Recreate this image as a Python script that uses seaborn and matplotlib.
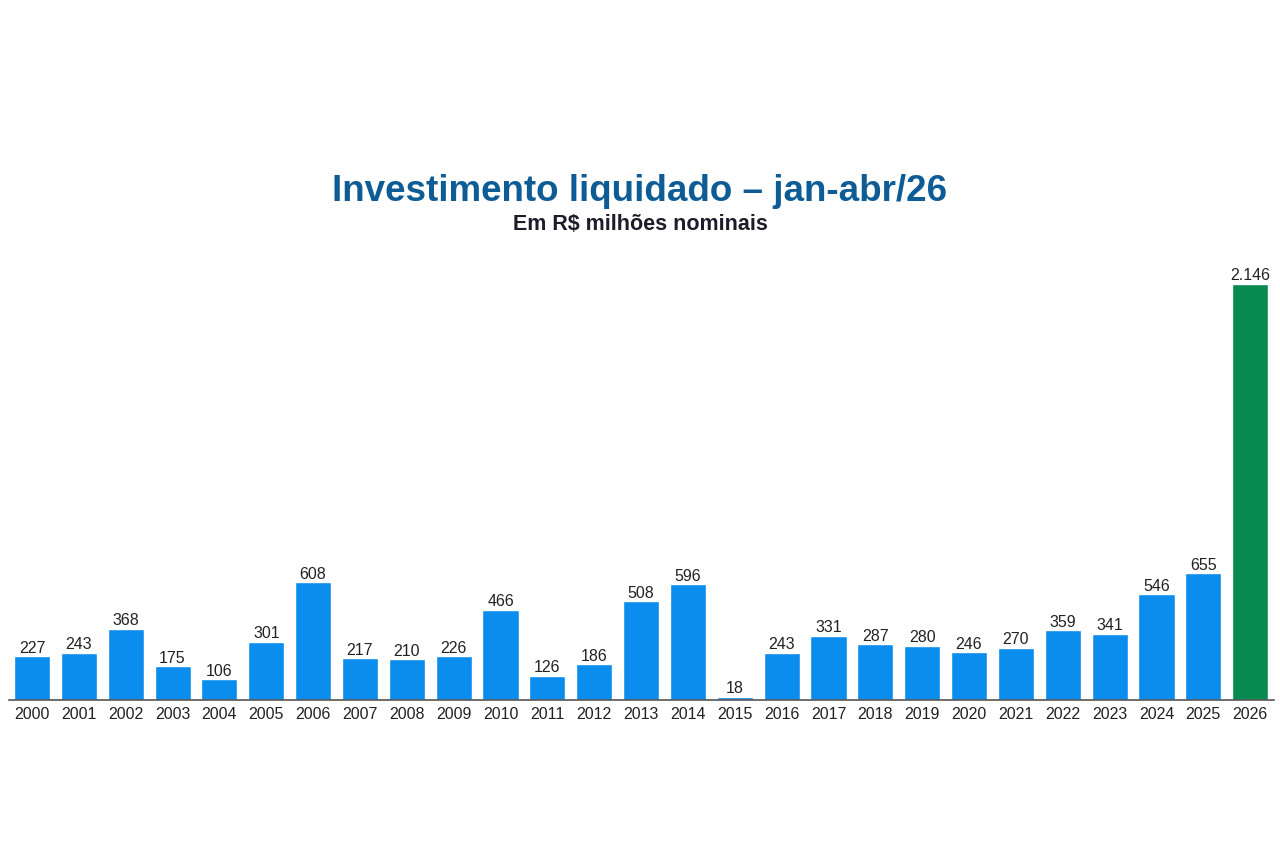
import matplotlib
matplotlib.use("Agg")
import matplotlib.pyplot as plt
import pandas as pd
import seaborn as sns

sns.set_style("white")
plt.rcParams['font.family'] = ['Liberation Sans', 'DejaVu Sans']

# dados (R$ milhoes nominais, jan-abr)
anos = [str(a) for a in range(2000, 2027)]
valores = [227, 243, 368, 175, 106, 301, 608, 217, 210, 226, 466, 126, 186, 508,
           596, 18, 243, 331, 287, 280, 246, 270, 359, 341, 546, 655, 2146]
destaque = ["base"] * 26 + ["atual"]

df = pd.DataFrame({"ano": anos, "valor": valores, "grupo": destaque})

fig = plt.figure(figsize=(12.8, 8.53), dpi=100)
ax = fig.add_axes([0.0067, 0.1782, 0.9883, 0.517])

sns.barplot(data=df, x="ano", y="valor", hue="grupo",
            palette={"base": "#0a8ded", "atual": "#078a4f"},
            width=0.77, dodge=False, legend=False, ax=ax, saturation=1)

# rotulos no formato brasileiro
rotulos = [f"{v:,}".replace(",", ".") for v in valores]
for cont in ax.containers:
    labs = [rotulos[int(round(b.get_x() + b.get_width() / 2))] for b in cont]
    ax.bar_label(cont, labels=labs, padding=1, fontsize=11.5, color="#222222")

ax.set_ylim(0, 2274)
ax.set_xlim(-0.5, 26.5)
ax.set_xlabel("")
ax.set_ylabel("")
ax.set_yticks([])
ax.tick_params(axis="x", length=0, labelsize=11.5, labelcolor="#222222", pad=4)
for s in ["top", "right", "left"]:
    ax.spines[s].set_visible(False)
ax.spines["bottom"].set_color("#555555")
ax.spines["bottom"].set_linewidth(1.2)

fig.text(0.5, 0.776, "Investimento liquidado – jan-abr/26", ha="center", va="center",
         fontsize=26.5, fontweight="bold", color="#0e5c96")
fig.text(0.5, 0.737, "Em R$ milhões nominais", ha="center", va="center",
         fontsize=15.5, fontweight="bold", color="#1c1c2a")

fig.savefig("out.png", dpi=100, facecolor="white")
